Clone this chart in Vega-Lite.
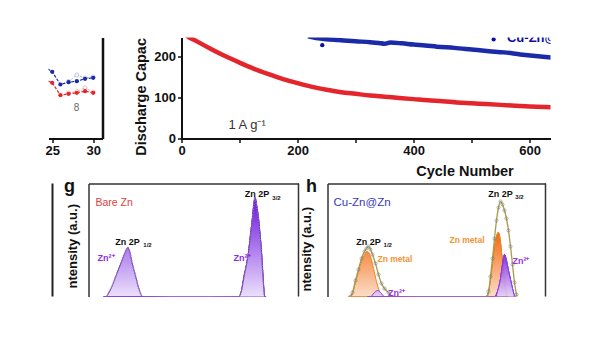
{
  "$schema": "https://vega.github.io/schema/vega-lite/v6.json",
  "background": "white",
  "padding": {"left": 44.5, "top": 37.5, "right": 0, "bottom": 0},
  "config": {
    "font": "Liberation Sans",
    "view": {"stroke": null},
    "axis": {"grid": false, "domainColor": "#111", "tickColor": "#111", "labelColor": "#111", "titleColor": "#111", "labelFont": "Liberation Sans", "titleFont": "Liberation Sans"}
  },
  "datasets": {
    "a": [
      {"cycle": 24, "val": 72, "s": "blue"}, {"cycle": 25, "val": 66.7, "s": "blue"}, {"cycle": 26, "val": 54, "s": "blue"}, {"cycle": 27, "val": 56.3, "s": "blue"}, {"cycle": 28, "val": 57.3, "s": "blue"}, {"cycle": 29, "val": 59.7, "s": "blue"}, {"cycle": 30, "val": 60.7, "s": "blue"},
      {"cycle": 24, "val": 59, "s": "red"}, {"cycle": 25, "val": 55.7, "s": "red"}, {"cycle": 26, "val": 43.3, "s": "red"}, {"cycle": 27, "val": 44.7, "s": "red"}, {"cycle": 28, "val": 45.7, "s": "red"}, {"cycle": 29, "val": 47.3, "s": "red"}, {"cycle": 30, "val": 45.7, "s": "red"},
      {"cycle": 27, "val": 57, "s": "blue_open"}, {"cycle": 28, "val": 63.5, "s": "blue_open"}, {"cycle": 29, "val": 60.5, "s": "blue_open"}, {"cycle": 30, "val": 61.5, "s": "blue_open"},
      {"cycle": 27, "val": 45.5, "s": "red_open"}, {"cycle": 28, "val": 47, "s": "red_open"}, {"cycle": 29, "val": 50.7, "s": "red_open"}, {"cycle": 30, "val": 46.5, "s": "red_open"}
    ],
    "b": [
      {"cycle": 0, "cap": 265, "s": "red"}, {"cycle": 10, "cap": 250, "s": "red"}, {"cycle": 25, "cap": 238, "s": "red"}, {"cycle": 50, "cap": 219, "s": "red"}, {"cycle": 75, "cap": 201, "s": "red"}, {"cycle": 100, "cap": 185, "s": "red"}, {"cycle": 125, "cap": 170, "s": "red"}, {"cycle": 150, "cap": 157, "s": "red"}, {"cycle": 175, "cap": 145, "s": "red"}, {"cycle": 200, "cap": 135, "s": "red"}, {"cycle": 225, "cap": 126, "s": "red"}, {"cycle": 250, "cap": 119, "s": "red"}, {"cycle": 275, "cap": 113, "s": "red"}, {"cycle": 300, "cap": 109, "s": "red"}, {"cycle": 325, "cap": 105, "s": "red"}, {"cycle": 350, "cap": 102, "s": "red"}, {"cycle": 375, "cap": 99, "s": "red"}, {"cycle": 400, "cap": 96, "s": "red"}, {"cycle": 425, "cap": 93, "s": "red"}, {"cycle": 450, "cap": 91, "s": "red"}, {"cycle": 475, "cap": 88, "s": "red"}, {"cycle": 500, "cap": 86, "s": "red"}, {"cycle": 525, "cap": 84, "s": "red"}, {"cycle": 550, "cap": 82, "s": "red"}, {"cycle": 575, "cap": 80, "s": "red"}, {"cycle": 600, "cap": 78, "s": "red"}, {"cycle": 625, "cap": 77, "s": "red"}, {"cycle": 640, "cap": 76, "s": "red"},
      {"cycle": 218, "cap": 249, "s": "blue"}, {"cycle": 232, "cap": 245, "s": "blue"}, {"cycle": 250, "cap": 242, "s": "blue"}, {"cycle": 270, "cap": 240, "s": "blue"}, {"cycle": 300, "cap": 237, "s": "blue"}, {"cycle": 325, "cap": 235, "s": "blue"}, {"cycle": 340, "cap": 233, "s": "blue"}, {"cycle": 350, "cap": 231, "s": "blue"}, {"cycle": 360, "cap": 234, "s": "blue"}, {"cycle": 380, "cap": 232, "s": "blue"}, {"cycle": 400, "cap": 229, "s": "blue"}, {"cycle": 420, "cap": 227, "s": "blue"}, {"cycle": 440, "cap": 224, "s": "blue"}, {"cycle": 470, "cap": 221, "s": "blue"}, {"cycle": 500, "cap": 217, "s": "blue"}, {"cycle": 530, "cap": 213, "s": "blue"}, {"cycle": 556, "cap": 210, "s": "blue"}, {"cycle": 584, "cap": 205, "s": "blue"}, {"cycle": 610, "cap": 201, "s": "blue"}, {"cycle": 640, "cap": 197, "s": "blue"}
    ],
    "g": [
      {"be": 1049.29, "v": -5, "p": "1"}, {"be": 1048.74, "v": 0, "p": "1"}, {"be": 1047.84, "v": 9, "p": "1"}, {"be": 1046.93, "v": 22, "p": "1"}, {"be": 1046.03, "v": 35, "p": "1"}, {"be": 1045.40, "v": 44, "p": "1"}, {"be": 1044.89, "v": 49, "p": "1"}, {"be": 1044.49, "v": 44, "p": "1"}, {"be": 1044.16, "v": 35, "p": "1"}, {"be": 1043.55, "v": 22, "p": "1"}, {"be": 1042.95, "v": 9, "p": "1"}, {"be": 1042.35, "v": 0, "p": "1"}, {"be": 1041.87, "v": -5, "p": "1"},
      {"be": 1025.22, "v": -5, "p": "2"}, {"be": 1024.67, "v": 0, "p": "2"}, {"be": 1024.31, "v": 6, "p": "2"}, {"be": 1023.86, "v": 20, "p": "2"}, {"be": 1023.41, "v": 32, "p": "2"}, {"be": 1023.05, "v": 44, "p": "2"}, {"be": 1022.68, "v": 62, "p": "2"}, {"be": 1022.36, "v": 77, "p": "2"}, {"be": 1022.09, "v": 92, "p": "2"}, {"be": 1021.87, "v": 99, "p": "2"}, {"be": 1021.60, "v": 92, "p": "2"}, {"be": 1021.24, "v": 78, "p": "2"}, {"be": 1020.96, "v": 62, "p": "2"}, {"be": 1020.69, "v": 44, "p": "2"}, {"be": 1020.48, "v": 25, "p": "2"}, {"be": 1020.33, "v": 12, "p": "2"}, {"be": 1020.15, "v": 0, "p": "2"}, {"be": 1019.88, "v": -5, "p": "2"}
    ],
    "h": [
      {"be": 1048.51, "v": -5, "c": "E", "p": "1"}, {"be": 1047.99, "v": 0, "c": "E", "p": "1"}, {"be": 1047.64, "v": 4, "c": "E", "p": "1"}, {"be": 1047.12, "v": 16, "c": "E", "p": "1"}, {"be": 1046.60, "v": 27, "c": "E", "p": "1"}, {"be": 1046.07, "v": 38, "c": "E", "p": "1"}, {"be": 1045.55, "v": 45, "c": "E", "p": "1"}, {"be": 1045.20, "v": 48, "c": "E", "p": "1"}, {"be": 1044.85, "v": 50, "c": "E", "p": "1"}, {"be": 1044.50, "v": 47, "c": "E", "p": "1"}, {"be": 1044.16, "v": 42, "c": "E", "p": "1"}, {"be": 1043.63, "v": 33, "c": "E", "p": "1"}, {"be": 1043.11, "v": 22, "c": "E", "p": "1"}, {"be": 1042.59, "v": 13, "c": "E", "p": "1"}, {"be": 1042.06, "v": 8, "c": "E", "p": "1"}, {"be": 1041.37, "v": 4, "c": "E", "p": "1"}, {"be": 1040.67, "v": -1, "c": "E", "p": "1"}, {"be": 1040.15, "v": -5, "c": "E", "p": "1"},
      {"be": 1048.34, "v": -5, "c": "M", "p": "1"}, {"be": 1047.99, "v": -1, "c": "M", "p": "1"}, {"be": 1047.64, "v": 3, "c": "M", "p": "1"}, {"be": 1047.12, "v": 14, "c": "M", "p": "1"}, {"be": 1046.60, "v": 25, "c": "M", "p": "1"}, {"be": 1046.07, "v": 35, "c": "M", "p": "1"}, {"be": 1045.55, "v": 42, "c": "M", "p": "1"}, {"be": 1045.03, "v": 45, "c": "M", "p": "1"}, {"be": 1044.50, "v": 40, "c": "M", "p": "1"}, {"be": 1043.98, "v": 28, "c": "M", "p": "1"}, {"be": 1043.46, "v": 15, "c": "M", "p": "1"}, {"be": 1042.94, "v": 5, "c": "M", "p": "1"}, {"be": 1042.41, "v": -5, "c": "M", "p": "1"},
      {"be": 1045.03, "v": -5, "c": "Z", "p": "1"}, {"be": 1044.50, "v": -1, "c": "Z", "p": "1"}, {"be": 1043.81, "v": 4, "c": "Z", "p": "1"}, {"be": 1043.28, "v": 6, "c": "Z", "p": "1"}, {"be": 1042.76, "v": 4, "c": "Z", "p": "1"}, {"be": 1042.06, "v": -1, "c": "Z", "p": "1"}, {"be": 1041.54, "v": -5, "c": "Z", "p": "1"},
      {"be": 1024.63, "v": -5, "c": "E", "p": "2"}, {"be": 1024.28, "v": -2, "c": "E", "p": "2"}, {"be": 1023.93, "v": 5, "c": "E", "p": "2"}, {"be": 1023.59, "v": 20, "c": "E", "p": "2"}, {"be": 1023.24, "v": 38, "c": "E", "p": "2"}, {"be": 1022.89, "v": 58, "c": "E", "p": "2"}, {"be": 1022.54, "v": 76, "c": "E", "p": "2"}, {"be": 1022.19, "v": 89, "c": "E", "p": "2"}, {"be": 1021.84, "v": 95, "c": "E", "p": "2"}, {"be": 1021.50, "v": 92, "c": "E", "p": "2"}, {"be": 1021.15, "v": 86, "c": "E", "p": "2"}, {"be": 1020.80, "v": 78, "c": "E", "p": "2"}, {"be": 1020.45, "v": 66, "c": "E", "p": "2"}, {"be": 1020.10, "v": 50, "c": "E", "p": "2"}, {"be": 1019.75, "v": 32, "c": "E", "p": "2"}, {"be": 1019.40, "v": 14, "c": "E", "p": "2"}, {"be": 1019.06, "v": 2, "c": "E", "p": "2"}, {"be": 1018.71, "v": -5, "c": "E", "p": "2"},
      {"be": 1024.46, "v": -5, "c": "M", "p": "2"}, {"be": 1023.93, "v": 4, "c": "M", "p": "2"}, {"be": 1023.59, "v": 16, "c": "M", "p": "2"}, {"be": 1023.24, "v": 32, "c": "M", "p": "2"}, {"be": 1022.89, "v": 48, "c": "M", "p": "2"}, {"be": 1022.54, "v": 60, "c": "M", "p": "2"}, {"be": 1022.24, "v": 64, "c": "M", "p": "2"}, {"be": 1021.93, "v": 58, "c": "M", "p": "2"}, {"be": 1021.67, "v": 44, "c": "M", "p": "2"}, {"be": 1021.32, "v": 25, "c": "M", "p": "2"}, {"be": 1020.97, "v": 8, "c": "M", "p": "2"}, {"be": 1020.62, "v": -5, "c": "M", "p": "2"},
      {"be": 1022.89, "v": -5, "c": "Z", "p": "2"}, {"be": 1022.37, "v": 5, "c": "Z", "p": "2"}, {"be": 1021.84, "v": 18, "c": "Z", "p": "2"}, {"be": 1021.50, "v": 32, "c": "Z", "p": "2"}, {"be": 1021.15, "v": 42, "c": "Z", "p": "2"}, {"be": 1020.80, "v": 36, "c": "Z", "p": "2"}, {"be": 1020.45, "v": 26, "c": "Z", "p": "2"}, {"be": 1020.10, "v": 17, "c": "Z", "p": "2"}, {"be": 1019.75, "v": 8, "c": "Z", "p": "2"}, {"be": 1019.49, "v": 2, "c": "Z", "p": "2"}, {"be": 1019.23, "v": -5, "c": "Z", "p": "2"}
    ],
    "gl": [
      {"be": 1044.94, "v": 55, "t": "Zn 2P", "k": "peak"},
      {"be": 1041.32, "v": 52, "t": "1/2", "k": "sub"},
      {"be": 1021.51, "v": 103, "t": "Zn 2P", "k": "peak"},
      {"be": 1017.98, "v": 99, "t": "3/2", "k": "sub"},
      {"be": 1048.83, "v": 39, "t": "Zn²⁺", "k": "zn"},
      {"be": 1024.22, "v": 39, "t": "Zn²⁺", "k": "zn"},
      {"be": 1050.73, "v": 94, "t": "Bare Zn", "k": "name"},
      {"be": 1055.44, "v": 110, "t": "g", "k": "panel"}
    ],
    "hl": [
      {"be": 1044.85, "v": 55, "t": "Zn 2P", "k": "peak"},
      {"be": 1041.5, "v": 52, "t": "1/2", "k": "sub"},
      {"be": 1021.84, "v": 103, "t": "Zn 2P", "k": "peak"},
      {"be": 1018.53, "v": 100, "t": "3/2", "k": "sub"},
      {"be": 1040.24, "v": 38, "t": "Zn metal", "k": "metal"},
      {"be": 1027.68, "v": 57, "t": "Zn metal", "k": "metal"},
      {"be": 1018.27, "v": 36, "t": "Zn²⁺", "k": "zn"},
      {"be": 1039.97, "v": 4, "t": "Zn²⁺", "k": "zn"},
      {"be": 1050.95, "v": 94, "t": "Cu-Zn@Zn", "k": "name"},
      {"be": 1054.79, "v": 110, "t": "h", "k": "panel"}
    ]
  },
  "spacing": 146,
  "bounds": "flush",
  "vconcat": [
    {
      "spacing": 79,
      "bounds": "flush",
      "hconcat": [
        {
          "width": 54,
          "height": 101,
          "data": {"name": "a"},
          "layer": [
            {
              "transform": [{"filter": "datum.s == 'blue_open' || datum.s == 'red_open'"}],
              "mark": {"type": "line", "clip": true, "strokeWidth": 0.8, "strokeDash": [2, 1.5]},
              "encoding": {
                "x": {"field": "cycle", "type": "quantitative", "scale": {"domain": [24.55, 31.13], "nice": false, "zero": false},
                  "axis": {"values": [25, 27.5, 30], "labelExpr": "datum.value == 27.5 ? '' : datum.label", "labelFontSize": 13, "labelFontWeight": "bold", "labelFlush": false, "labelPadding": 2, "tickSize": 4, "tickWidth": 1.5, "domainWidth": 2, "title": null}},
                "y": {"field": "val", "type": "quantitative", "scale": {"domain": [0, 101], "nice": false},
                  "axis": {"orient": "right", "ticks": false, "labels": false, "domainWidth": 2.5, "title": null}},
                "color": {"field": "s", "type": "nominal", "scale": {"domain": ["blue", "red", "blue_open", "red_open"], "range": ["#1b2aa8", "#e4252b", "#9aa0dc", "#f19a9a"]}, "legend": null}
              }
            },
            {
              "transform": [{"filter": "datum.s == 'blue' || datum.s == 'red'"}],
              "mark": {"type": "line", "clip": true, "strokeWidth": 1.2, "strokeDash": [3, 1.5]},
              "encoding": {
                "x": {"field": "cycle", "type": "quantitative"},
                "y": {"field": "val", "type": "quantitative"},
                "color": {"field": "s", "type": "nominal", "legend": null}
              }
            },
            {
              "transform": [{"filter": "datum.s == 'blue_open' || datum.s == 'red_open'"}],
              "mark": {"type": "point", "clip": true, "filled": false, "fill": "white", "size": 16, "strokeWidth": 0.9},
              "encoding": {
                "x": {"field": "cycle", "type": "quantitative"},
                "y": {"field": "val", "type": "quantitative"},
                "color": {"field": "s", "type": "nominal", "legend": null}
              }
            },
            {
              "transform": [{"filter": "datum.s == 'blue' || datum.s == 'red'"}],
              "mark": {"type": "circle", "clip": true, "size": 18, "opacity": 1},
              "encoding": {
                "x": {"field": "cycle", "type": "quantitative"},
                "y": {"field": "val", "type": "quantitative"},
                "color": {"field": "s", "type": "nominal", "legend": null}
              }
            },
            {
              "data": {"values": [{"cycle": 27.96, "val": 31, "t": "8"}]},
              "mark": {"type": "text", "fontSize": 10, "color": "#666", "align": "center", "baseline": "middle"},
              "encoding": {
                "x": {"field": "cycle", "type": "quantitative"},
                "y": {"field": "val", "type": "quantitative"},
                "text": {"field": "t"}
              }
            }
          ]
        },
        {
          "width": 369,
          "height": 101,
          "layer": [
            {
              "data": {"name": "b"},
              "mark": {"type": "line", "clip": true, "strokeWidth": 4.5, "interpolate": "monotone"},
              "encoding": {
                "x": {"field": "cycle", "type": "quantitative", "scale": {"domain": [0, 636], "nice": false},
                  "axis": {"values": [0, 100, 200, 300, 400, 500, 600], "labelExpr": "datum.value % 200 == 0 ? datum.label : ''", "labelFontSize": 13, "labelFontWeight": "bold", "labelFlush": false, "labelPadding": 2, "tickSize": 4, "tickWidth": 1.5, "domainWidth": 2,
                    "title": "Cycle Number", "titleFontSize": 14.5, "titleFontWeight": "bold", "titleX": 283, "titleY": 33, "titleBaseline": "middle", "titleAlign": "center"}},
                "y": {"field": "cap", "type": "quantitative", "scale": {"domain": [0, 246.3], "nice": false},
                  "axis": {"values": [0, 50, 100, 150, 200], "labelExpr": "datum.value % 100 == 0 ? datum.label : ''", "labelFontSize": 13, "labelFontWeight": "bold", "labelPadding": 2, "tickSize": 4, "tickWidth": 1.5, "domainWidth": 2,
                    "title": "Discharge Capac", "titleFontSize": 14.5, "titleFontWeight": "bold", "titleX": -40, "titleY": 0, "titleAngle": 270, "titleAlign": "right", "titleBaseline": "middle"}},
                "color": {"field": "s", "type": "nominal", "scale": {"domain": ["blue", "red"], "range": ["#0c0ca6", "#ff1f1f"]}, "legend": null}
              }
            },
            {
              "data": {"values": [{"cycle": 242.6, "cap": 227.6}, {"cycle": 538, "cap": 241.5}]},
              "mark": {"type": "circle", "clip": true, "size": 18, "color": "#0c0ca6", "opacity": 1},
              "encoding": {
                "x": {"field": "cycle", "type": "quantitative"},
                "y": {"field": "cap", "type": "quantitative"}
              }
            },
            {
              "data": {"values": [{"cycle": 561, "cap": 245.6, "t": "Cu-Zn@Zn"}]},
              "mark": {"type": "text", "clip": true, "align": "left", "baseline": "middle", "fontSize": 13, "fontWeight": "bold", "color": "#0c0ca6"},
              "encoding": {
                "x": {"field": "cycle", "type": "quantitative"},
                "y": {"field": "cap", "type": "quantitative"},
                "text": {"field": "t"}
              }
            },
            {
              "data": {"values": [{"cycle": 81, "cap": 34, "t": "1 A g⁻¹"}]},
              "mark": {"type": "text", "align": "left", "baseline": "middle", "fontSize": 13, "color": "#333"},
              "encoding": {
                "x": {"field": "cycle", "type": "quantitative"},
                "y": {"field": "cap", "type": "quantitative"},
                "text": {"field": "t"}
              }
            }
          ]
        }
      ]
    },
    {
      "spacing": 36,
      "bounds": "flush",
      "hconcat": [
        {
          "width": 4,
          "height": 113,
          "data": {"values": [{"edge": 1}]},
          "mark": {"type": "rule", "color": "#222", "strokeWidth": 2},
          "encoding": {
            "x": {"field": "edge", "type": "quantitative", "scale": {"domain": [0, 1]}, "axis": null}
          }
        },
        {
          "spacing": 29,
          "bounds": "flush",
          "hconcat": [
            {
              "width": 210,
              "height": 113,
              "layer": [
                {
                  "data": {"name": "g"},
                  "mark": {"type": "area", "clip": true, "interpolate": "monotone", "stroke": "#7a2ae0", "strokeWidth": 1,
                    "fill": {"gradient": "linear", "x1": 0, "y1": 0, "x2": 0, "y2": 1, "stops": [{"offset": 0, "color": "#6c12e0"}, {"offset": 1, "color": "#f1eafc"}]}},
                  "encoding": {
                    "x": {"field": "be", "type": "quantitative", "scale": {"domain": [1014, 1052], "reverse": true, "nice": false, "zero": false},
                      "axis": {"orient": "top", "ticks": false, "labels": false, "domainWidth": 1.5, "domainColor": "#333", "title": null}},
                    "y": {"field": "v", "type": "quantitative", "scale": {"domain": [0, 113], "nice": false},
                      "axis": {"ticks": false, "labels": false, "domainWidth": 1.5, "domainColor": "#333", "title": "ntensity (a.u.)", "titleFontSize": 13, "titleFontWeight": "bold", "titleX": -16, "titleY": 20, "titleAngle": 270, "titleAlign": "right", "titleBaseline": "middle"}},
                    "detail": {"field": "p"}
                  }
                },
                {
                  "data": {"name": "g"},
                  "mark": {"type": "line", "clip": true, "interpolate": "monotone", "color": "#888", "strokeWidth": 1.6, "strokeDash": [1, 1.6]},
                  "encoding": {
                    "x": {"field": "be", "type": "quantitative"},
                    "y": {"field": "v", "type": "quantitative"},
                    "detail": {"field": "p"}
                  }
                },
                {
                  "data": {"values": [{"be": 1014}]},
                  "mark": {"type": "rule", "color": "#333", "strokeWidth": 1.5},
                  "encoding": {"x": {"field": "be", "type": "quantitative"}}
                },
                {
                  "data": {"name": "gl"},
                  "transform": [{"filter": "datum.k == 'peak'"}],
                  "mark": {"type": "text", "fontSize": 9, "fontWeight": "bold", "color": "#111", "align": "center", "baseline": "middle"},
                  "encoding": {"x": {"field": "be", "type": "quantitative"}, "y": {"field": "v", "type": "quantitative"}, "text": {"field": "t"}}
                },
                {
                  "data": {"name": "gl"},
                  "transform": [{"filter": "datum.k == 'sub'"}],
                  "mark": {"type": "text", "fontSize": 6, "fontWeight": "bold", "color": "#111", "align": "center", "baseline": "middle"},
                  "encoding": {"x": {"field": "be", "type": "quantitative"}, "y": {"field": "v", "type": "quantitative"}, "text": {"field": "t"}}
                },
                {
                  "data": {"name": "gl"},
                  "transform": [{"filter": "datum.k == 'zn'"}],
                  "mark": {"type": "text", "clip": true, "fontSize": 9, "fontWeight": "bold", "color": "#8b2be2", "align": "center", "baseline": "middle"},
                  "encoding": {"x": {"field": "be", "type": "quantitative"}, "y": {"field": "v", "type": "quantitative"}, "text": {"field": "t"}}
                },
                {
                  "data": {"name": "gl"},
                  "transform": [{"filter": "datum.k == 'name'"}],
                  "mark": {"type": "text", "fontSize": 10.5, "color": "#e2403a", "align": "left", "baseline": "middle"},
                  "encoding": {"x": {"field": "be", "type": "quantitative"}, "y": {"field": "v", "type": "quantitative"}, "text": {"field": "t"}}
                },
                {
                  "data": {"name": "gl"},
                  "transform": [{"filter": "datum.k == 'panel'"}],
                  "mark": {"type": "text", "fontSize": 18, "fontWeight": "bold", "color": "#111", "align": "center", "baseline": "middle"},
                  "encoding": {"x": {"field": "be", "type": "quantitative"}, "y": {"field": "v", "type": "quantitative"}, "text": {"field": "t"}}
                }
              ]
            },
            {
              "width": 218,
              "height": 113,
              "layer": [
                {
                  "data": {"name": "h"},
                  "transform": [{"filter": "datum.c == 'M'"}],
                  "mark": {"type": "area", "clip": true, "interpolate": "monotone", "stroke": "#e8842a", "strokeWidth": 1,
                    "fill": {"gradient": "linear", "x1": 0, "y1": 0, "x2": 0, "y2": 1, "stops": [{"offset": 0, "color": "#f26a0f"}, {"offset": 1, "color": "#fde6d6"}]}},
                  "encoding": {
                    "x": {"field": "be", "type": "quantitative", "scale": {"domain": [1014, 1052], "reverse": true, "nice": false, "zero": false},
                      "axis": {"orient": "top", "ticks": false, "labels": false, "domainWidth": 1.5, "domainColor": "#333", "title": null}},
                    "y": {"field": "v", "type": "quantitative", "scale": {"domain": [0, 113], "nice": false},
                      "axis": {"ticks": false, "labels": false, "domainWidth": 1.5, "domainColor": "#333", "title": "ntensity (a.u.)", "titleFontSize": 13, "titleFontWeight": "bold", "titleX": -21, "titleY": 23, "titleAngle": 270, "titleAlign": "right", "titleBaseline": "middle"}},
                    "detail": {"field": "p"}
                  }
                },
                {
                  "data": {"name": "h"},
                  "transform": [{"filter": "datum.c == 'Z'"}],
                  "mark": {"type": "area", "clip": true, "interpolate": "monotone", "stroke": "#8a3ae0", "strokeWidth": 1, "fillOpacity": 0.92,
                    "fill": {"gradient": "linear", "x1": 0, "y1": 0, "x2": 0, "y2": 1, "stops": [{"offset": 0, "color": "#7b22d8"}, {"offset": 1, "color": "#efe5fb"}]}},
                  "encoding": {
                    "x": {"field": "be", "type": "quantitative"},
                    "y": {"field": "v", "type": "quantitative"},
                    "detail": {"field": "p"}
                  }
                },
                {
                  "data": {"name": "h"},
                  "transform": [{"filter": "datum.c == 'E'"}],
                  "mark": {"type": "line", "clip": true, "interpolate": "monotone", "color": "#a89c48", "strokeWidth": 1.3},
                  "encoding": {
                    "x": {"field": "be", "type": "quantitative"},
                    "y": {"field": "v", "type": "quantitative"},
                    "detail": {"field": "p"}
                  }
                },
                {
                  "data": {"name": "h"},
                  "transform": [{"filter": "datum.c == 'E'"}],
                  "mark": {"type": "point", "clip": true, "filled": false, "color": "#777", "size": 10, "strokeWidth": 0.8},
                  "encoding": {
                    "x": {"field": "be", "type": "quantitative"},
                    "y": {"field": "v", "type": "quantitative"}
                  }
                },
                {
                  "data": {"values": [{"be": 1014}]},
                  "mark": {"type": "rule", "color": "#333", "strokeWidth": 1.5},
                  "encoding": {"x": {"field": "be", "type": "quantitative"}}
                },
                {
                  "data": {"name": "hl"},
                  "transform": [{"filter": "datum.k == 'peak'"}],
                  "mark": {"type": "text", "fontSize": 9, "fontWeight": "bold", "color": "#111", "align": "center", "baseline": "middle"},
                  "encoding": {"x": {"field": "be", "type": "quantitative"}, "y": {"field": "v", "type": "quantitative"}, "text": {"field": "t"}}
                },
                {
                  "data": {"name": "hl"},
                  "transform": [{"filter": "datum.k == 'sub'"}],
                  "mark": {"type": "text", "fontSize": 6, "fontWeight": "bold", "color": "#111", "align": "center", "baseline": "middle"},
                  "encoding": {"x": {"field": "be", "type": "quantitative"}, "y": {"field": "v", "type": "quantitative"}, "text": {"field": "t"}}
                },
                {
                  "data": {"name": "hl"},
                  "transform": [{"filter": "datum.k == 'zn'"}],
                  "mark": {"type": "text", "clip": true, "fontSize": 9, "fontWeight": "bold", "color": "#9436e0", "align": "center", "baseline": "middle"},
                  "encoding": {"x": {"field": "be", "type": "quantitative"}, "y": {"field": "v", "type": "quantitative"}, "text": {"field": "t"}}
                },
                {
                  "data": {"name": "hl"},
                  "transform": [{"filter": "datum.k == 'metal'"}],
                  "mark": {"type": "text", "fontSize": 8.5, "fontWeight": "bold", "color": "#f39332", "align": "center", "baseline": "middle"},
                  "encoding": {"x": {"field": "be", "type": "quantitative"}, "y": {"field": "v", "type": "quantitative"}, "text": {"field": "t"}}
                },
                {
                  "data": {"name": "hl"},
                  "transform": [{"filter": "datum.k == 'name'"}],
                  "mark": {"type": "text", "fontSize": 11.5, "color": "#3838b8", "align": "left", "baseline": "middle"},
                  "encoding": {"x": {"field": "be", "type": "quantitative"}, "y": {"field": "v", "type": "quantitative"}, "text": {"field": "t"}}
                },
                {
                  "data": {"name": "hl"},
                  "transform": [{"filter": "datum.k == 'panel'"}],
                  "mark": {"type": "text", "fontSize": 18, "fontWeight": "bold", "color": "#111", "align": "center", "baseline": "middle"},
                  "encoding": {"x": {"field": "be", "type": "quantitative"}, "y": {"field": "v", "type": "quantitative"}, "text": {"field": "t"}}
                }
              ]
            }
          ]
        }
      ]
    }
  ]
}
